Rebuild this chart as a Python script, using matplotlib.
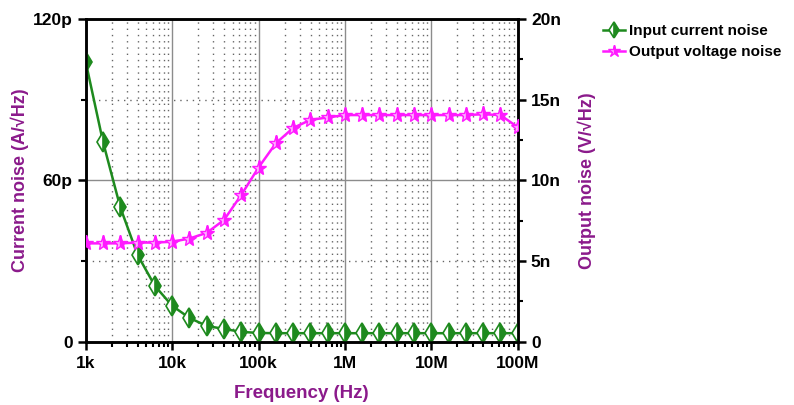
import numpy as np
import matplotlib
matplotlib.use("Agg")
import matplotlib.pyplot as plt
from matplotlib.ticker import FixedLocator, LogLocator, NullFormatter, FuncFormatter

plt.rcParams['font.family'] = ['Liberation Sans', 'DejaVu Sans']
plt.rcParams['font.weight'] = 'bold'

# ── data ─────────────────────────────────────────────────────────────────────
freq = 10 ** (3 + 0.2 * np.arange(26))   # 1k .. 100M, 5 points / decade

current_noise_p = [104, 74.3, 50, 32.3, 20.8, 13.4, 8.9, 5.9, 4.8, 3.7,
                   3.3, 3.2, 3.2, 3.2, 3.2, 3.2, 3.2, 3.2, 3.2, 3.2,
                   3.2, 3.2, 3.2, 3.2, 3.2, 3.2]

output_noise_n = [6.1, 6.1, 6.1, 6.15, 6.15, 6.2, 6.4, 6.75, 7.55, 9.1,
                  10.8, 12.3, 13.25, 13.75, 13.9, 14.05, 14.05, 14.05, 14.05, 14.05,
                  14.05, 14.05, 14.05, 14.1, 14.05, 13.3]

green = '#1e8a1e'
magenta = '#ff1aff'
purple = '#8b1a8b'

fig = plt.figure(figsize=(7.94, 4.05), dpi=100)
ax = fig.add_axes([0.108, 0.156, 0.544, 0.797])
ax2 = ax.twinx()

l1, = ax.plot(freq, current_noise_p, color=green, lw=1.8, marker='d', ms=10,
              fillstyle='right', markerfacecoloralt='white', mec=green, mew=1.2,
              label='Input current noise', zorder=4)
l2, = ax2.plot(freq, output_noise_n, color=magenta, lw=1.8, marker='*', ms=11,
               fillstyle='right', markerfacecoloralt='#ffb3ff', mec=magenta, mew=1.0,
               label='Output voltage noise', zorder=4)

ax.set_xscale('log')
ax.set_xlim(1e3, 1e8)
ax.set_ylim(0, 120)
ax2.set_ylim(0, 20)

ax.xaxis.set_major_locator(LogLocator(base=10, numticks=10))
ax.xaxis.set_minor_locator(LogLocator(base=10, subs=np.arange(2, 10), numticks=20))
ax.xaxis.set_minor_formatter(NullFormatter())
xnames = {1e3: '1k', 1e4: '10k', 1e5: '100k', 1e6: '1M', 1e7: '10M', 1e8: '100M'}
ax.xaxis.set_major_formatter(FuncFormatter(lambda v, _: xnames.get(round(v), '')))

ax.yaxis.set_major_locator(FixedLocator([0, 60, 120]))
ax.yaxis.set_minor_locator(FixedLocator([30, 90]))
ax.yaxis.set_major_formatter(FuncFormatter(lambda v, _: '0' if v == 0 else f'{v:.0f}p'))
ax2.yaxis.set_major_locator(FixedLocator([0, 5, 10, 15, 20]))
ax2.yaxis.set_minor_locator(FixedLocator([2.5, 7.5, 12.5, 17.5]))
ax2.yaxis.set_major_formatter(FuncFormatter(lambda v, _: '0' if v == 0 else f'{v:.0f}n'))

# grid
ax.grid(True, which='major', axis='x', color='#8c8c8c', lw=1.0, ls='-')
ax.grid(True, which='minor', axis='x', color='#666666', lw=1.0, ls=(0, (1, 3.5)))
ax.grid(True, which='major', axis='y', color='#8c8c8c', lw=1.0, ls='-')
ax.grid(True, which='minor', axis='y', color='#666666', lw=1.0, ls=(0, (1, 3.5)))
ax.set_axisbelow(True)

for a in (ax, ax2):
    for s in a.spines.values():
        s.set_linewidth(1.8)
    a.tick_params(which='major', length=6, width=1.8, labelsize=12.5, direction='out')
    a.tick_params(which='minor', length=3.5, width=1.5, direction='out')
ax.tick_params(axis='x', pad=4)

ax.set_ylabel('Current noise (A/√Hz)', color=purple, fontsize=13, fontweight='bold', labelpad=3)
ax2.set_ylabel('Output noise (V/√Hz)', color=purple, fontsize=13, fontweight='bold', labelpad=12)
ax.set_xlabel('Frequency (Hz)', color=purple, fontsize=13.5, fontweight='bold', labelpad=10)

fig.legend(handles=[l1, l2], loc='upper left', bbox_to_anchor=(0.752, 0.955),
           frameon=False, fontsize=11, handlelength=1.4, handletextpad=0.3,
           borderaxespad=0, labelspacing=0.45, markerscale=0.8)

fig.savefig('out.png', dpi=100)
